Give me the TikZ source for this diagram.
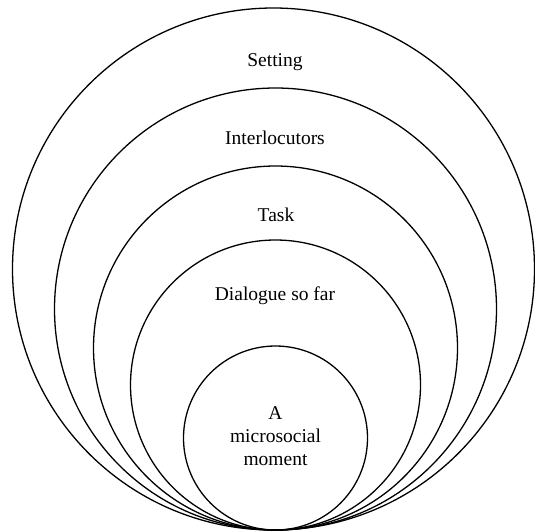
\documentclass[tikz,border=0pt]{standalone}
\usepackage{fontspec}
\setmainfont{Liberation Serif}
\begin{document}
\begin{tikzpicture}[x=1pt,y=-1pt,
  ring/.style={circle,draw,line width=1.3pt,inner sep=0pt,outer sep=0pt},
  lbl/.style={font=\fontsize{19.5}{23}\selectfont,align=center,inner sep=0pt}]
\useasboundingbox[fill=white] (0,0) rectangle (535,531);
\node[ring,minimum size=522pt] (setting) at (273.5,269) {};
\node[ring,minimum size=442pt] (inter) at (275.5,309) {};
\node[ring,minimum size=364pt] (task) at (275.5,348) {};
\node[ring,minimum size=290pt] (dialog) at (275.5,385) {};
\node[ring,minimum size=184pt] (moment) at (275.5,438) {};
\node[lbl] (tsetting) at (275,62) {Setting};
\node[lbl] (tinter) at (275,138) {Interlocutors};
\node[lbl] (ttask) at (276,215) {Task};
\node[lbl] (tdialog) at (275,296) {Dialogue so far};
\node[lbl] (tmoment) at (275.5,436) {A\\microsocial\\moment};
\end{tikzpicture}
\end{document}
